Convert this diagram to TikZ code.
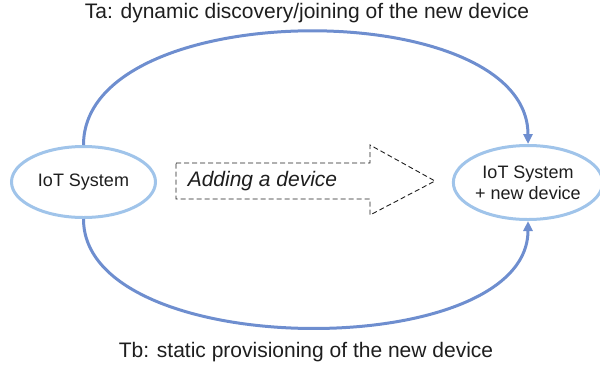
\documentclass[tikz,border=0pt]{standalone}
\usepackage{fontspec}
\setmainfont{Liberation Sans}
\usetikzlibrary{shapes.geometric,arrows.meta}
\definecolor{ringblue}{HTML}{A0C4EA}
\definecolor{flowblue}{HTML}{6E8ECF}
\definecolor{ink}{HTML}{1E1E1E}
\tikzset{
  system/.style={ellipse, draw=ringblue, line width=3pt, fill=white,
    inner sep=0pt, align=center, text=ink, font=\fontsize{18}{21}\selectfont},
  flow/.style={draw=flowblue, line width=3pt,
    -{Triangle[length=10pt,width=9pt]}},
  caption/.style={text=ink, font=\fontsize{21}{24}\selectfont, inner sep=0pt},
  addarrow/.style={draw=ink, line width=0.9pt, dash pattern=on 5pt off 3pt}
}
\begin{document}
\begin{tikzpicture}[x=1pt, y=-1pt]
  \useasboundingbox (0,0) rectangle (600,368);

  % the two system states
  \node[system, minimum width=144pt, minimum height=71pt] (old) at (83.5,182) {IoT System};
  \node[system, minimum width=139pt, minimum height=74pt] (new) at (528,182.5) {IoT System\\+ new device};

  % transitions between them
  \draw[flow] (old.north) .. controls +(0,-150) and +(0,-150) .. (new.north);
  \draw[flow] (old.south) .. controls +(0,143) and +(0,143) .. (new.south);

  % transition labels
  \node[caption] (ta) at (307,13) {Ta: dynamic discovery/joining of the new device};
  \node[caption] (tb) at (306,352) {Tb: static provisioning of the new device};

  % dashed block arrow in the middle
  \draw[addarrow] (176,163) -- (370,163) -- (370,145) -- (435,181)
    -- (370,215) -- (370,199) -- (176,199) -- cycle;
  \node[text=ink, font=\fontsize{21}{24}\selectfont\itshape, inner sep=0pt]
    (adding) at (262.5,181) {Adding a device};
\end{tikzpicture}
\end{document}
